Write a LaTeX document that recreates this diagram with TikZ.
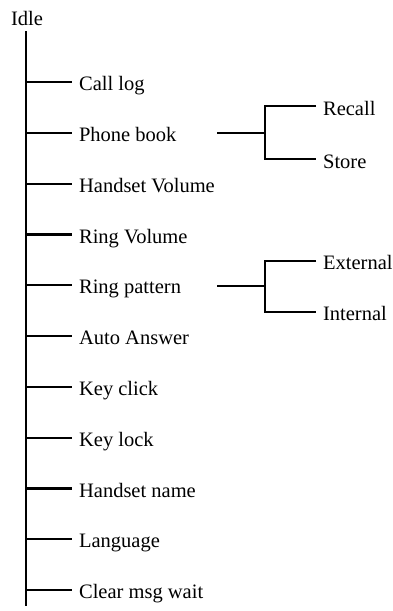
\documentclass[tikz,border=0pt]{standalone}
\usepackage{fontspec}
\setmainfont{Liberation Serif}
\begin{document}
\begin{tikzpicture}[x=1pt,y=-1pt,line width=2.2pt,
  lbl/.style={font=\fontsize{20.5}{23}\selectfont, inner sep=0pt},
  item/.style={lbl, anchor=west, inner xsep=6pt, inner ysep=0pt, text height=17.5pt, text depth=0pt},
  wire/.style={draw=black, line width=2.2pt, line join=miter}]
\useasboundingbox (0,0) rectangle (393,611);
\node[lbl, anchor=base west] (idle) at (10,25) {Idle};
\coordinate (top) at (26,31);
\coordinate (bot) at (26,606);
\draw[wire] (top) -- (bot);
\foreach \k/\t in {0/Call log,1/Phone book,2/Handset Volume,3/Ring Volume,4/Ring pattern,5/Auto Answer,6/Key click,7/Key lock,8/Handset name,9/Language,10/Clear msg wait}{
  \pgfmathsetmacro{\yy}{82+50.8*\k}
  \coordinate (t\k) at (26,\yy);
  \node[item] (n\k) at (72,\yy) {\t};
  \draw[wire] (t\k) -- (n\k.west);
}
% Phone book subtree
\coordinate (pbl) at (217,132.8);
\coordinate (pbj) at (265,132.8);
\coordinate (pbu) at (265,106.3);
\coordinate (pbd) at (265,159.3);
\node[item] (recall) at (316,106.3) {Recall};
\node[item] (store) at (316,159.3) {Store};
\draw[wire] (pbl) -- (pbj);
\draw[wire] (recall.west) -- (pbu) -- (pbd) -- (store.west);
% Ring pattern subtree
\coordinate (rpl) at (217,286.2);
\coordinate (rpj) at (265,286.2);
\coordinate (rpu) at (265,260.7);
\coordinate (rpd) at (265,311.7);
\node[item] (external) at (316,260.7) {External};
\node[item] (internal) at (316,311.7) {Internal};
\draw[wire] (rpl) -- (rpj);
\draw[wire] (external.west) -- (rpu) -- (rpd) -- (internal.west);
\end{tikzpicture}
\end{document}
